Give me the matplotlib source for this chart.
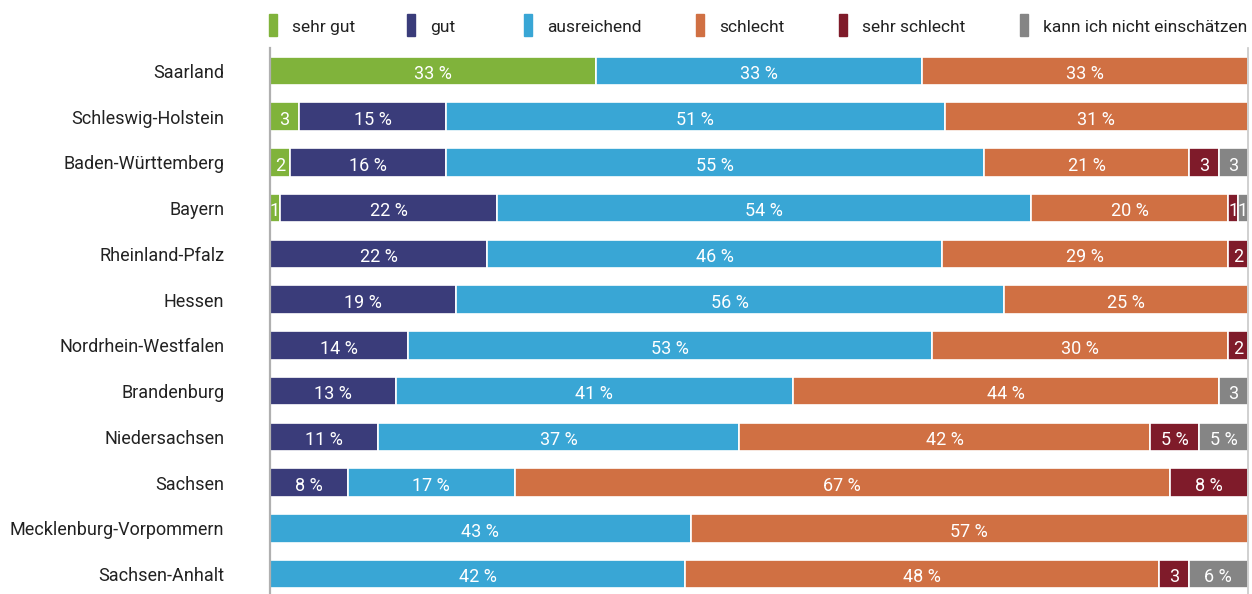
import matplotlib.pyplot as plt
from matplotlib.patches import Rectangle
import numpy as np

plt.rcParams['font.family'] = ['Roboto', 'DejaVu Sans']

laender = ["Saarland", "Schleswig-Holstein", "Baden-Württemberg", "Bayern",
           "Rheinland-Pfalz", "Hessen", "Nordrhein-Westfalen", "Brandenburg",
           "Niedersachsen", "Sachsen", "Mecklenburg-Vorpommern", "Sachsen-Anhalt"]

kategorien = ["sehr gut", "gut", "ausreichend", "schlecht", "sehr schlecht",
              "kann ich nicht einschätzen"]
farben = ["#80b33b", "#3a3c7a", "#39a6d5", "#d07043", "#7f1b2a", "#858585"]

# Anteile in Prozent je Kategorie (Reihenfolge wie laender)
sehr_gut      = [33, 3, 2, 1, 0, 0, 0, 0, 0, 0, 0, 0]
gut           = [0, 15, 16, 22, 22, 19, 14, 13, 11, 8, 0, 0]
ausreichend   = [33, 51, 55, 54, 46, 56, 53, 41, 37, 17, 43, 42]
schlecht      = [33, 31, 21, 20, 29, 25, 30, 44, 42, 67, 57, 48]
sehr_schlecht = [0, 0, 3, 1, 2, 0, 2, 0, 5, 8, 0, 3]
weiss_nicht   = [0, 0, 3, 1, 0, 0, 0, 3, 5, 0, 0, 6]

werte = np.array([sehr_gut, gut, ausreichend, schlecht, sehr_schlecht, weiss_nicht], dtype=float)
# jede Zeile auf 100 % strecken
anteile = werte / werte.sum(axis=0) * 100

W, H = 1252, 594
fig = plt.figure(figsize=(W / 100, H / 100), dpi=100)
ax = fig.add_axes([270 / W, 1 - 597 / H, (1248 - 270) / W, (597 - 48) / H])

y = np.arange(len(laender))
links = np.zeros(len(laender))
for k in range(len(kategorien)):
    ax.barh(y, anteile[k], left=links, height=0.62, color=farben[k],
            edgecolor="white", linewidth=1.2)
    for i in range(len(laender)):
        v = werte[k, i]
        if v > 0:
            txt = "%d" % v if v < 4 else "%d %%" % v
            ax.text(links[i] + anteile[k, i] / 2, y[i] + 0.03, txt, ha="center",
                    va="center_baseline", color="white", fontsize=13)
    links += anteile[k]

ax.set_xlim(0, 100)
ax.set_ylim(len(laender) - 0.5, -0.5)
ax.set_yticks(y)
ax.set_yticklabels(laender, fontsize=13, color="#222222")
ax.tick_params(axis="y", length=0, pad=33)
ax.set_xticks([])
for s in ["top", "bottom"]:
    ax.spines[s].set_visible(False)
ax.spines["left"].set_color("#b0b0b0")
ax.spines["left"].set_linewidth(1.6)
ax.spines["right"].set_color("#c8c8c8")
ax.spines["right"].set_linewidth(1.2)

# Legende oben
legende_x = [269, 407, 524, 696, 839, 1020]
for k, name in enumerate(kategorien):
    x0 = legende_x[k]
    fig.add_artist(Rectangle((x0 / W, 1 - 36 / H), 8 / W, 22 / H,
                             transform=fig.transFigure, color=farben[k]))
    fig.text((x0 + 23) / W, 1 - 26 / H, name, ha="left", va="center_baseline",
             fontsize=12.5, color="#222222")

fig.savefig("out.png", dpi=100)
